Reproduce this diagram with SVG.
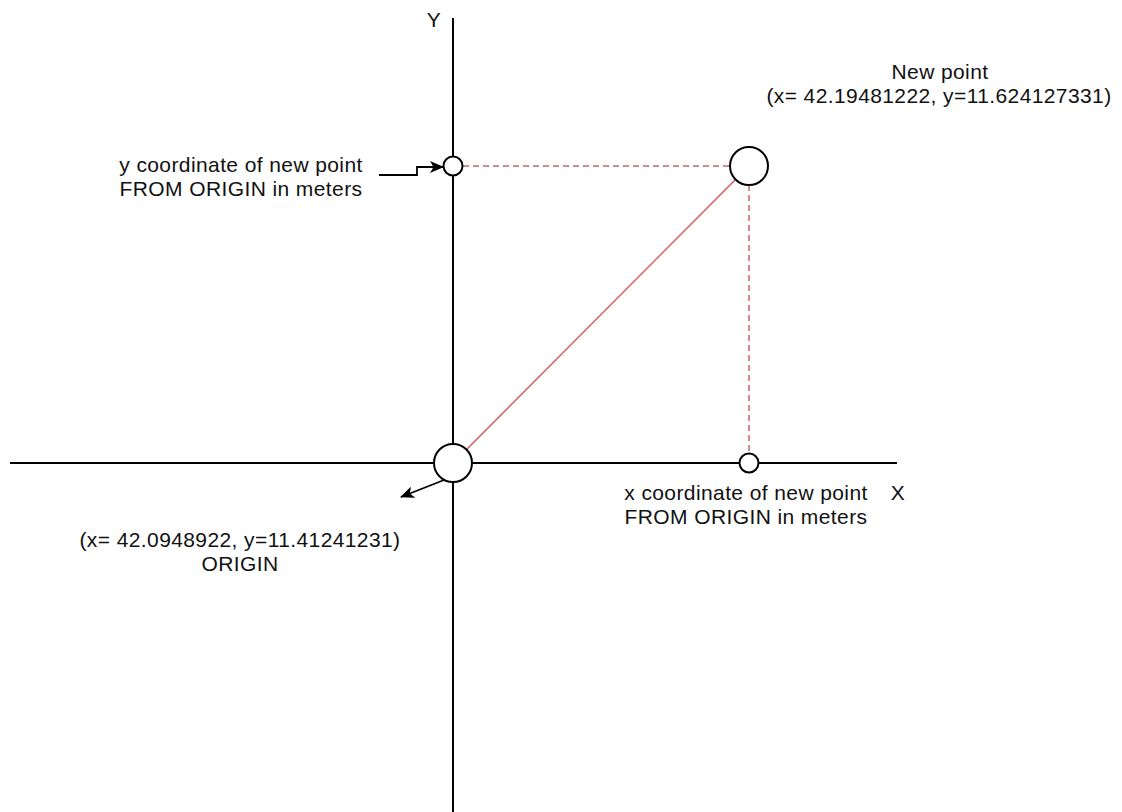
<svg xmlns="http://www.w3.org/2000/svg" width="1122" height="812" viewBox="0 0 1122 812">
  <style>
    .ax { stroke: #000; stroke-width: 2; fill: none; }
    .node { fill: #fff; stroke: #000; stroke-width: 2; }
    .red { stroke: #d06a6a; stroke-width: 1.5; fill: none; }
    .dash { stroke: #c86464; stroke-width: 1.5; fill: none; stroke-dasharray: 6 4; }
    .conn { stroke: #000; stroke-width: 1.8; fill: none; }
    text { font-family: "Liberation Sans", Arial, Helvetica, sans-serif; font-size: 21px; letter-spacing: 0.4px; fill: #111; }
  </style>
  <defs>
    <marker id="arr" viewBox="0 0 14 12" refX="13" refY="6" markerWidth="14" markerHeight="12" markerUnits="userSpaceOnUse" orient="auto">
      <path d="M0,0 L14,6 L0,12 L3.5,6 Z" fill="#000"/>
    </marker>
  </defs>
  <rect width="1122" height="812" fill="#fff"/>

  <g id="axes">
    <line class="ax" x1="453" y1="18" x2="453" y2="812"/>
    <line class="ax" x1="10" y1="463" x2="897" y2="463"/>
  </g>

  <g id="connectors">
    <line class="dash" x1="463" y1="166" x2="730" y2="166"/>
    <line class="dash" x1="749" y1="185" x2="749" y2="453"/>
    <line class="red" x1="466.4" y1="449.6" x2="735.6" y2="179.4"/>
    <path class="conn" d="M379,175 H417 V167 H443" marker-end="url(#arr)"/>
    <line class="conn" x1="444" y1="480" x2="401" y2="497" marker-end="url(#arr)"/>
  </g>

  <g id="origin">
    <circle class="node" cx="453" cy="463" r="19"/>
  </g>
  <g id="new-point">
    <circle class="node" cx="749" cy="166" r="19"/>
  </g>
  <g id="y-coord-point">
    <circle class="node" cx="453" cy="166" r="9.5"/>
  </g>
  <g id="x-coord-point">
    <circle class="node" cx="749" cy="463" r="9.5"/>
  </g>

  <g id="labels">
    <text x="434" y="27" text-anchor="middle">Y</text>
    <text x="898" y="500" text-anchor="middle">X</text>
    <text x="940" y="79" text-anchor="middle">New point</text>
    <text x="939" y="103" text-anchor="middle">(x= 42.19481222, y=11.624127331)</text>
    <text x="241" y="172" text-anchor="middle">y coordinate of new point</text>
    <text x="241" y="196" text-anchor="middle">FROM ORIGIN in meters</text>
    <text x="746" y="500" text-anchor="middle">x coordinate of new point</text>
    <text x="746" y="524" text-anchor="middle">FROM ORIGIN in meters</text>
    <text x="240" y="547" text-anchor="middle">(x= 42.0948922, y=11.41241231)</text>
    <text x="240" y="571" text-anchor="middle">ORIGIN</text>
  </g>
</svg>
